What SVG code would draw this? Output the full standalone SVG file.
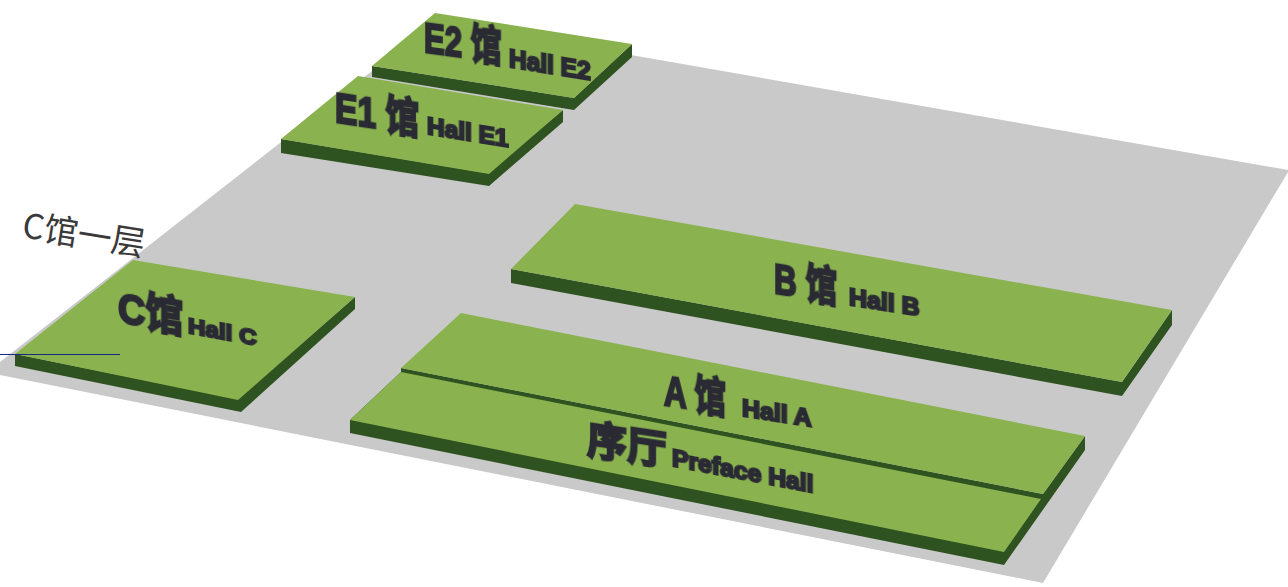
<svg xmlns="http://www.w3.org/2000/svg" width="1288" height="587" viewBox="0 0 1288 587">
<defs><filter id="soft" x="-5%" y="-5%" width="110%" height="110%"><feGaussianBlur stdDeviation="0.5"/></filter></defs>
<style>
.floor{fill:#c9c9c9}
.top{fill:#8ab24f}
.side{fill:#2f5320}
.big,.small{font-family:"Liberation Sans","Noto Sans CJK SC",sans-serif;font-weight:700;fill:#2c2c34;stroke:#2c2c34;filter:url(#soft)}
.big{font-size:42px;stroke-width:2.4px}
.small{font-size:24px;stroke-width:2.2px}
.note{font-family:"Noto Sans CJK SC",sans-serif;font-size:34px;font-weight:400;fill:#3a3a3a}
.conn{fill:none;stroke:#14297f;stroke-width:1}
</style>
<rect width="1288" height="587" fill="#ffffff"/>
<polygon class="floor" points="436,21 1288,170 1288,172 1043,583 0,375 0,362"/>
<g id="hall-e2">
<polygon class="side" points="372,66 574,98 632,44 632,57 574,110 372,77"/>
<polygon class="top" points="435,13 632,44 574,98 372,66"/>
<text class="big" transform="matrix(.74,.1,0,1,424,52)">E2 馆</text>
<text class="small" transform="matrix(.98,.157,0,1,509,67)" style="font-size:25px">Hall E2</text>
</g>
<g id="hall-e1">
<polygon class="side" points="281,139 487,173 563,110 563,122 489,186 281,153"/>
<polygon class="top" points="358,76 563,110 489,174 281,139"/>
<text class="big" transform="matrix(.8,.12,0,1,335,122)">E1 馆</text>
<text class="small" transform="matrix(1.02,.163,0,1,427,134)">Hall E1</text>
</g>
<g id="hall-c">
<polygon class="side" points="15,354 238,399 355,297 355,309 241,412 15,366"/>
<polygon class="top" points="133,260 355,297 238,400 15,354"/>
<text class="big" transform="matrix(.9,.153,0,1,118,322)">C馆</text>
<text class="small" transform="matrix(1.1,.2,0,1,188,333)" style="font-size:22px">Hall C</text>
</g>
<g id="hall-b">
<polygon class="side" points="511,269 1122,382 1172,310 1172,325 1122,396 511,283"/>
<polygon class="top" points="575,204 1172,310 1122,382 511,269"/>
<text class="big" transform="matrix(.75,.12,0,1,774,293)">B 馆</text>
<text class="small" transform="matrix(1.04,.16,0,1,849,305)">Hall B</text>
</g>
<g id="hall-a">
<polygon class="side" points="401,368 1043,494 1085,436 1085,450 1004,565 350,433 350,420 401,372"/>
<polygon class="top" points="461,313 1085,436 1043,494 401,368"/>
<text class="big" transform="matrix(.75,.11,0,1,664,405)">A 馆</text>
<text class="small" transform="matrix(1.04,.16,0,1,742,416)">Hall A</text>
</g>
<g id="preface-hall">
<polygon class="top" points="401,372 1041,499 1004,552 350,420"/>
<text class="big" transform="matrix(1,.15,0,1,587,453)" style="font-size:40px">序厅</text>
<text class="small" transform="matrix(1.03,.195,0,1,672,466)">Preface Hall</text>
</g>
<text class="note" transform="translate(21,237) rotate(9)">C馆一层</text>
<g id="connectors">
<line class="conn" x1="0" y1="354.5" x2="120" y2="354.5"/>
</g>
</svg>
